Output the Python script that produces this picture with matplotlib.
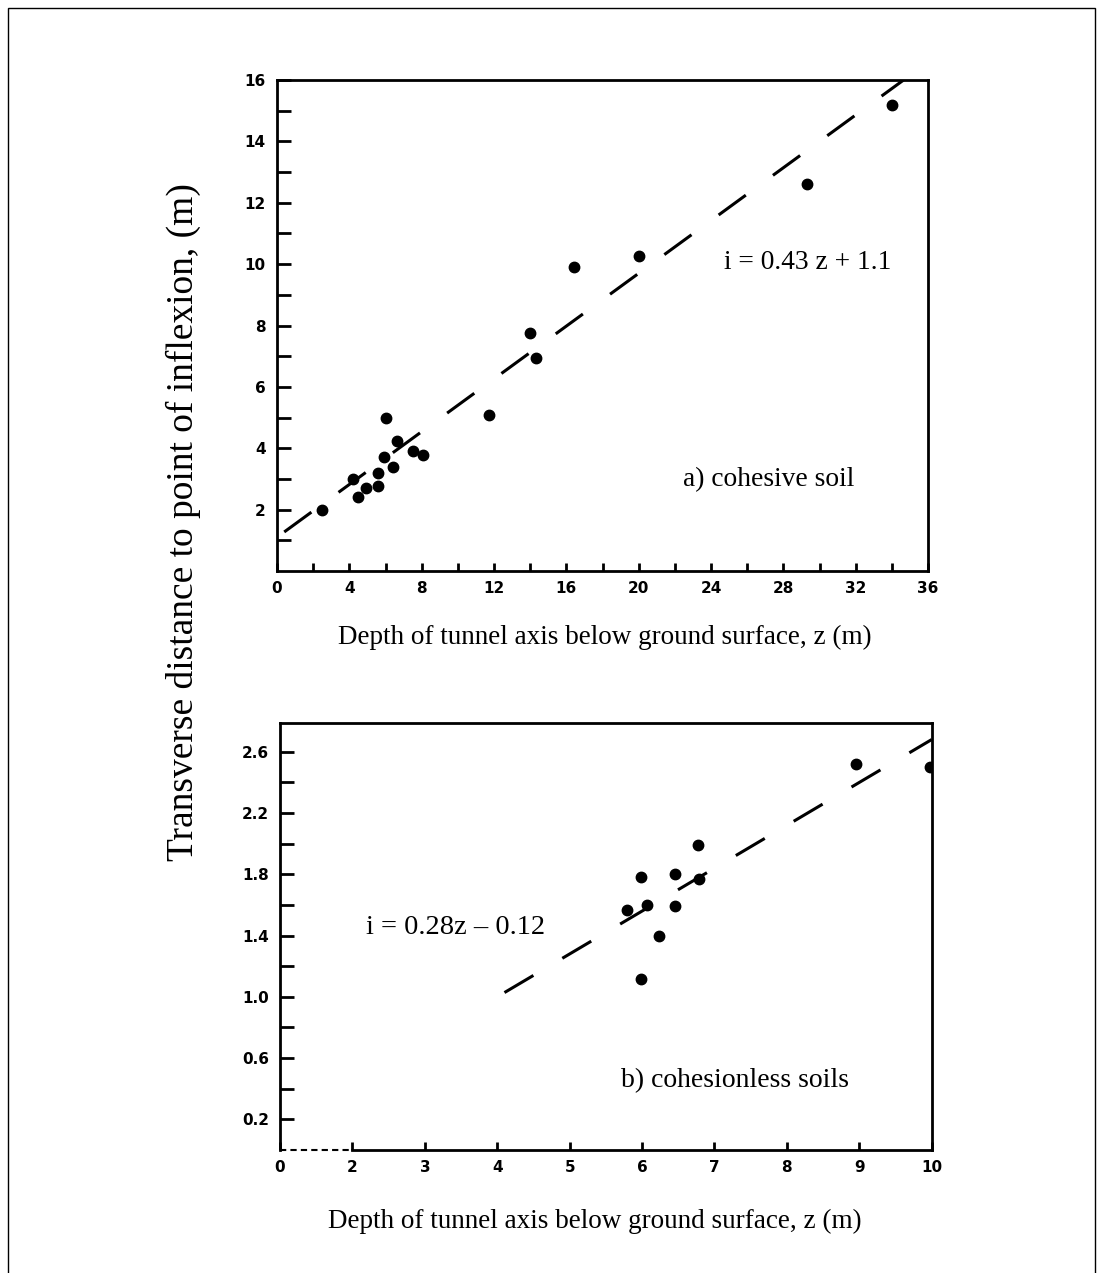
import numpy as np
import matplotlib
matplotlib.use("Agg")
import matplotlib.pyplot as plt
from matplotlib.patches import Rectangle

# a) cohesive soil
z_a = [2.5, 4.2, 4.5, 4.9, 5.6, 5.6, 5.9, 6.05, 6.4, 6.65, 7.5, 8.1,
       11.7, 14.0, 14.3, 16.4, 20.0, 29.3, 34.0]
i_a = [2.0, 3.0, 2.4, 2.7, 2.78, 3.2, 3.7, 5.0, 3.4, 4.25, 3.9, 3.77,
       5.07, 7.75, 6.94, 9.92, 10.27, 12.62, 15.2]
fit_a = (0.43, 1.1)
fit_a_range = [0.4, 34.65]

# b) cohesionless soils
z_b = [8.96, 9.98, 6.77, 5.98, 6.45, 6.78, 5.79, 6.07, 6.46, 6.24, 5.98]
i_b = [2.52, 2.50, 1.99, 1.78, 1.80, 1.77, 1.565, 1.60, 1.59, 1.40, 1.115]
fit_b = (0.28, -0.12)
fit_b_range = [4.1, 10.0]

xt_a = [0, 4, 8, 12, 16, 20, 24, 28, 32, 36]
yt_a = [2, 4, 6, 8, 10, 12, 14, 16]
xt_b = [1, 2, 3, 4, 5, 6, 7, 8, 9, 10]
xl_b = ['0', '2', '3', '4', '5', '6', '7', '8', '9', '10']
yt_b = [0.2, 0.6, 1.0, 1.4, 1.8, 2.2, 2.6]

W, H = 1105, 1273
fig = plt.figure(figsize=(W / 100, H / 100), dpi=100)
fig.patch.set_facecolor('white')

serif = 'Liberation Serif'


def style(ax):
    for s in ax.spines.values():
        s.set_linewidth(2.0)
    ax.tick_params(which='both', direction='in', width=2.0, top=False, right=False,
                   labelsize=11, pad=7)
    ax.tick_params(axis='y', which='both', length=10, pad=8)
    ax.tick_params(axis='x', which='both', length=6)
    for lab in ax.get_xticklabels() + ax.get_yticklabels():
        lab.set_fontweight('bold')
        lab.set_family('DejaVu Sans')


# top panel
ax1 = fig.add_axes([277 / W, 1 - 571 / H, 651 / W, 491 / H])
ax1.plot(z_a, i_a, 'o', color='black', ms=7.5)
zz = np.array(fit_a_range)
ln, = ax1.plot(zz, fit_a[0] * zz + fit_a[1], color='black', lw=2.2)
ln.set_dashes((11, 11))
ax1.set_xlim(0, 36)
ax1.set_ylim(0, 16)
ax1.set_xticks(xt_a)
ax1.set_xticks(np.arange(2, 36, 4), minor=True)
ax1.set_yticks(yt_a)
ax1.set_yticks(np.arange(1, 16, 2), minor=True)
style(ax1)
ax1.text(24.7, 9.83, 'i = 0.43 z + 1.1', family=serif, fontsize=19.8, va='baseline')
ax1.text(22.45, 2.75, 'a) cohesive soil', family=serif, fontsize=19.8, va='baseline')

# bottom panel
ax2 = fig.add_axes([280 / W, 1 - 1150 / H, 651.7 / W, 427.3 / H])
ax2.plot(z_b, i_b, 'o', color='black', ms=7.5)
zz = np.array(fit_b_range)
ln, = ax2.plot(zz, fit_b[0] * zz + fit_b[1], color='black', lw=2.2)
ln.set_dashes((11, 11))
ax2.set_xlim(1, 10)
ax2.set_ylim(0, 2.79)
ax2.set_xticks(xt_b)
ax2.set_xticklabels(xl_b)
ax2.set_yticks(yt_b)
ax2.set_yticks(np.arange(0.4, 2.5, 0.4), minor=True)
ax2.spines['bottom'].set_bounds(2, 10)
brk, = ax2.plot([1, 2], [0, 0], color='black', lw=1.5, clip_on=False)
brk.set_dashes((3, 2))
style(ax2)
ax2.text(2.19, 1.41, 'i = 0.28z \u2013 0.12', family=serif, fontsize=20.5, va='baseline')
ax2.text(5.71, 0.41, 'b) cohesionless soils', family=serif, fontsize=20, va='baseline')

# axis titles
fig.text(605 / W, 1 - 637 / H, 'Depth of tunnel axis below ground surface, z (m)',
         family=serif, fontsize=19.5, ha='center', va='center')
fig.text(595 / W, 1 - 1221 / H, 'Depth of tunnel axis below ground surface, z (m)',
         family=serif, fontsize=19.5, ha='center', va='center')
fig.text(183 / W, 1 - 522 / H, 'Transverse distance to point of inflexion, (m)',
         family=serif, fontsize=27, rotation=90, ha='center', va='center')

# page frame
fig.patches.append(Rectangle((8 / W, -0.02), 1087 / W, 1.02 - 8 / H, fill=False,
                             edgecolor='black', lw=1.0, transform=fig.transFigure))

fig.savefig('out.png', dpi=100, facecolor='white')
